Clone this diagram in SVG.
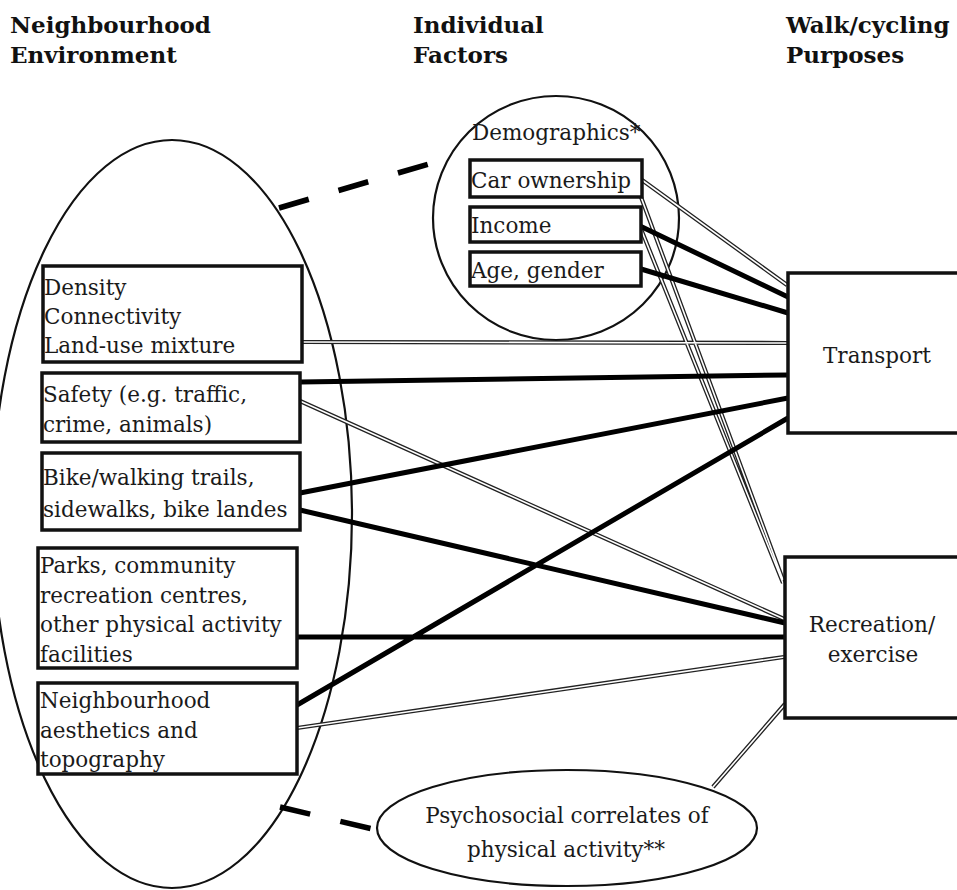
<svg xmlns="http://www.w3.org/2000/svg" width="957" height="890" viewBox="0 0 957 890">
<style>
.bg{fill:#fff}
.box{fill:#fff;stroke:#111;stroke-width:3.5}
.shape{fill:none;stroke:#111;stroke-width:2.2}
.t{font-family:"DejaVu Serif",serif;font-size:21.5px;fill:#1a1a1a}
.c{text-anchor:middle}
.h{font-family:"DejaVu Serif",serif;font-weight:bold;font-size:23px;fill:#111}
.thick{stroke:#000;stroke-width:5;fill:none}
.dash{stroke:#000;stroke-width:5.5;fill:none;stroke-dasharray:31 31}
.dout{stroke:#222;stroke-width:4.2;fill:none}
.din{stroke:#fff;stroke-width:1.6;fill:none}
</style>
<rect class="bg" x="0" y="0" width="957" height="890"/>
<g id="headers">
<text class="h" x="10" y="33">Neighbourhood</text>
<text class="h" x="10" y="63">Environment</text>
<text class="h" x="413" y="33">Individual</text>
<text class="h" x="413" y="63">Factors</text>
<text class="h" x="786" y="33">Walk/cycling</text>
<text class="h" x="786" y="63">Purposes</text>
</g>
<g id="neighbourhood-environment">
<ellipse class="shape" cx="172" cy="514" rx="180" ry="374"/>
</g>
<g id="individual-factors">
<ellipse class="shape" cx="556" cy="218" rx="123" ry="122"/>
<text class="t" x="472" y="140">Demographics*</text>
</g>
<g id="psychosocial">
<ellipse class="shape" cx="567" cy="828" rx="190" ry="58"/>
<text class="t c" x="567" y="823">Psychosocial correlates of</text>
<text class="t c" x="566" y="857">physical activity**</text>
</g>
<g id="connectors">
<line class="dash" x1="279" y1="208" x2="432" y2="163"/>
<line class="dash" x1="280" y1="807" x2="377" y2="830"/>
<g id="double-lines">
<path class="dout" d="M642 180L787 285M302 342L788 343M300 401L784 619M297 728L784 657M641 229L783 583M641 197L783 580M713 787L785 704"/>
<path class="din" d="M642 180L787 285M302 342L788 343M300 401L784 619M297 728L784 657M641 229L783 583M641 197L783 580M713 787L785 704"/>
</g>
<g id="thick-lines">
<path class="thick" d="M640 226L788 297M641 269L788 313M300 382L788 375M300 493L788 398M300 510L785 623M297 637L785 637M297 705L788 418"/>
</g>
</g>
<g id="car-ownership">
<rect class="box" x="470" y="160" width="172" height="37"/>
<text class="t" x="471" y="188">Car ownership</text>
</g>
<g id="income">
<rect class="box" x="470" y="207" width="171" height="35"/>
<text class="t" x="471" y="233">Income</text>
</g>
<g id="age-gender">
<rect class="box" x="470" y="252" width="171" height="34"/>
<text class="t" x="471" y="278">Age, gender</text>
</g>
<g id="density">
<rect class="box" x="43" y="266" width="259" height="96"/>
<text class="t" x="44" y="295">Density</text>
<text class="t" x="44" y="324">Connectivity</text>
<text class="t" x="44" y="353">Land-use mixture</text>
</g>
<g id="safety">
<rect class="box" x="42" y="373" width="258" height="69"/>
<text class="t" x="43" y="402">Safety (e.g. traffic,</text>
<text class="t" x="43" y="432">crime, animals)</text>
</g>
<g id="bike">
<rect class="box" x="42" y="453" width="258" height="77"/>
<text class="t" x="43" y="485">Bike/walking trails,</text>
<text class="t" x="43" y="517">sidewalks, bike landes</text>
</g>
<g id="parks">
<rect class="box" x="38" y="548" width="259" height="120"/>
<text class="t" x="40" y="573">Parks, community</text>
<text class="t" x="40" y="603">recreation centres,</text>
<text class="t" x="40" y="632">other physical activity</text>
<text class="t" x="40" y="662">facilities</text>
</g>
<g id="aesthetics">
<rect class="box" x="38" y="683" width="259" height="91"/>
<text class="t" x="40" y="708">Neighbourhood</text>
<text class="t" x="40" y="738">aesthetics and</text>
<text class="t" x="40" y="767">topography</text>
</g>
<g id="transport">
<rect class="box" x="788" y="273" width="200" height="160"/>
<text class="t c" x="877" y="363">Transport</text>
</g>
<g id="recreation">
<rect class="box" x="785" y="557" width="200" height="161"/>
<text class="t c" x="872" y="632">Recreation/</text>
<text class="t c" x="873" y="662">exercise</text>
</g>
</svg>
